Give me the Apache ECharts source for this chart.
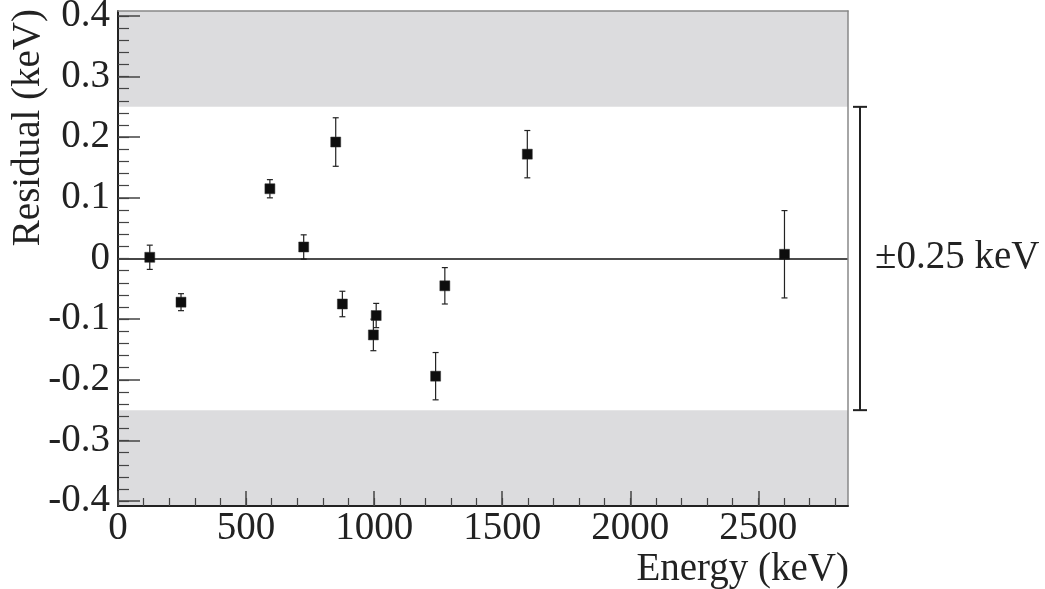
<!DOCTYPE html>
<html><head><meta charset="utf-8">
<script src="https://cdn.jsdelivr.net/npm/echarts@6/dist/echarts.min.js"></script>
<style>html,body{margin:0;padding:0;background:#fff}#c{width:1045px;height:589px}</style>
</head><body><div id="c"></div>
<script>
// ---- data ----
const energy      = [124, 246, 593, 725, 850, 876, 997, 1008, 1240, 1276, 1598, 2602];
const residual    = [0.002, -0.072, 0.115, 0.019, 0.192, -0.075, -0.126, -0.094, -0.194, -0.045, 0.172, 0.007];
const residualErr = [0.020, 0.014, 0.015, 0.020, 0.040, 0.021, 0.026, 0.020, 0.039, 0.030, 0.039, 0.072];
const xTickLabels = [0, 500, 1000, 1500, 2000, 2500];
const yTickLabels = [-0.4, -0.3, -0.2, -0.1, 0, 0.1, 0.2, 0.3, 0.4];
const tolerance   = 0.25;
const xRange      = [0, 2850];
const yRange      = [-0.408, 0.408];

const xMinor = []; for (let v = 0; v <= 2800; v += 100) xMinor.push(v);
const yMinor = []; for (let k = -20; k <= 20; k++) yMinor.push(Math.round(k * 2) / 100);

const FONT = '"Liberation Serif", "Times New Roman", serif';
const TICK_COLOR = '#444';

const chart = echarts.init(document.getElementById('c'), null, {renderer: 'canvas'});

const noSplit = {show: false};
const option = {
  animation: false,
  backgroundColor: '#ffffff',
  grid: {left: 118, right: 197, top: 11, bottom: 83, containLabel: false, outerBoundsMode: 'none'},
  xAxis: [
    {type: 'value', min: xRange[0], max: xRange[1], position: 'bottom', z: 5,
     axisLine: {show: true, onZero: false, lineStyle: {color: '#222', width: 2}},
     axisTick: {show: true, inside: true, length: 15, customValues: xTickLabels, lineStyle: {color: TICK_COLOR, width: 1.5}},
     axisLabel: {show: true, customValues: xTickLabels, margin: 3, fontSize: 39, fontFamily: FONT, color: '#222',
                 formatter: v => String(Math.round(v))},
     splitLine: noSplit},
    {type: 'value', min: xRange[0], max: xRange[1], position: 'bottom', z: 5,
     axisLine: {show: false, onZero: false},
     axisTick: {show: true, inside: true, length: 8, customValues: xMinor, lineStyle: {color: TICK_COLOR, width: 1.2}},
     axisLabel: {show: false}, splitLine: noSplit},
    {type: 'value', min: xRange[0], max: xRange[1], position: 'top', z: 5,
     axisLine: {show: true, onZero: false, lineStyle: {color: '#888', width: 1.5}},
     axisTick: {show: false}, axisLabel: {show: false}, splitLine: noSplit}
  ],
  yAxis: [
    {type: 'value', min: yRange[0], max: yRange[1], position: 'left', z: 5,
     axisLine: {show: true, onZero: false, lineStyle: {color: '#222', width: 2}},
     axisTick: {show: true, inside: true, length: 22, customValues: yTickLabels, lineStyle: {color: TICK_COLOR, width: 1.5}},
     axisLabel: {show: true, customValues: yTickLabels, margin: 8, fontSize: 39, fontFamily: FONT, color: '#222',
                 formatter: v => String(Math.round(v * 10) / 10)},
     splitLine: noSplit},
    {type: 'value', min: yRange[0], max: yRange[1], position: 'left', z: 5,
     axisLine: {show: false, onZero: false},
     axisTick: {show: true, inside: true, length: 11, customValues: yMinor, lineStyle: {color: TICK_COLOR, width: 1.2}},
     axisLabel: {show: false}, splitLine: noSplit},
    {type: 'value', min: yRange[0], max: yRange[1], position: 'right', z: 5,
     axisLine: {show: true, onZero: false, lineStyle: {color: '#888', width: 1.5}},
     axisTick: {show: false}, axisLabel: {show: false}, splitLine: noSplit}
  ],
  graphic: [
    {type: 'text', x: 29, y: 9, rotation: Math.PI / 2, z: 10,
     style: {text: 'Residual (keV)', font: '39px ' + FONT, fill: '#222',
             align: 'right', verticalAlign: 'middle', textAlign: 'right', textVerticalAlign: 'middle'}},
    {type: 'text', x: 849, y: 570, z: 10,
     style: {text: 'Energy (keV)', font: '39px ' + FONT, fill: '#222',
             align: 'right', verticalAlign: 'middle', textAlign: 'right', textVerticalAlign: 'middle'}}
  ],
  series: [
    {
      type: 'scatter', xAxisIndex: 0, yAxisIndex: 0, z: 4,
      data: energy.map((e, i) => [e, residual[i]]),
      symbol: 'rect', symbolSize: 10,
      itemStyle: {color: '#0d0d0d', borderColor: '#333', borderWidth: 0.5, opacity: 1},
      markArea: {
        silent: true,
        itemStyle: {color: '#dcdcde', opacity: 1},
        data: [
          [{yAxis: tolerance}, {yAxis: yRange[1]}],
          [{yAxis: yRange[0]}, {yAxis: -tolerance}]
        ]
      },
      markLine: {
        silent: true, symbol: 'none', label: {show: false},
        lineStyle: {color: '#111', width: 1.5, type: 'solid'},
        data: [{yAxis: 0}]
      }
    },
    {
      type: 'custom', xAxisIndex: 0, yAxisIndex: 0, z: 3,
      data: energy.map((e, i) => [e, residual[i], residualErr[i]]),
      encode: {x: 0, y: 1},
      renderItem: (params, api) => {
        const x = api.value(0), y = api.value(1), e = api.value(2);
        const top = api.coord([x, y + e]), bot = api.coord([x, y - e]);
        const cw = 3;
        const style = {stroke: '#222', lineWidth: 1.2};
        return {type: 'group', children: [
          {type: 'line', shape: {x1: top[0], y1: top[1], x2: bot[0], y2: bot[1]}, style},
          {type: 'line', shape: {x1: top[0] - cw, y1: top[1], x2: top[0] + cw, y2: top[1]}, style},
          {type: 'line', shape: {x1: bot[0] - cw, y1: bot[1], x2: bot[0] + cw, y2: bot[1]}, style}
        ]};
      }
    },
    {
      type: 'custom', xAxisIndex: 0, yAxisIndex: 0, z: 3, clip: false,
      data: [[xRange[1], -tolerance, tolerance]],
      encode: {x: 0, y: 2},
      renderItem: (params, api) => {
        const xe = api.value(0), lo = api.value(1), hi = api.value(2);
        const pHi = api.coord([xe, hi]), pLo = api.coord([xe, lo]), pMid = api.coord([xe, (lo + hi) / 2]);
        const bx = pHi[0] + 12, cw = 7;
        const style = {stroke: '#222', lineWidth: 2};
        return {type: 'group', children: [
          {type: 'line', shape: {x1: bx, y1: pHi[1], x2: bx, y2: pLo[1]}, style},
          {type: 'line', shape: {x1: bx - cw, y1: pHi[1], x2: bx + cw, y2: pHi[1]}, style},
          {type: 'line', shape: {x1: bx - cw, y1: pLo[1], x2: bx + cw, y2: pLo[1]}, style},
          {type: 'text', x: pHi[0] + 27, y: pMid[1] - 1,
           style: {text: '\u00B1' + tolerance + ' keV', font: '39px ' + FONT, fill: '#222',
                   align: 'left', verticalAlign: 'middle', textAlign: 'left', textVerticalAlign: 'middle'}}
        ]};
      }
    }
  ]
};
chart.setOption(option);
</script>
</body></html>
